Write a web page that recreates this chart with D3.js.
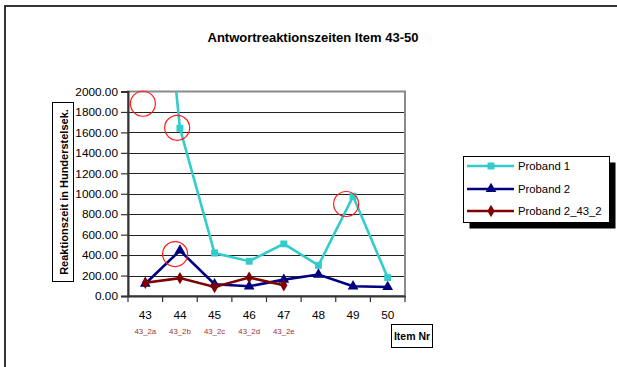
<!DOCTYPE html>
<html>
<head>
<meta charset="utf-8">
<script src="https://cdn.jsdelivr.net/npm/d3@7"></script>
<style>
  html, body { margin: 0; padding: 0; background: #fff; }
  svg { display: block; font-family: "Liberation Sans", Arial, sans-serif; }
</style>
</head>
<body>
<svg id="chart" width="617" height="367"></svg>
<script>
// Items on the x axis and the sub-item codes printed below them
const items = ["43", "44", "45", "46", "47", "48", "49", "50"];
const subItems = ["43_2a", "43_2b", "43_2c", "43_2d", "43_2e"];

// Reaction times (hundredths of a second)
const proband1 = [5000, 1640, 420, 340, 510, 300, 975, 180];
const proband2 = [120, 445, 115, 95, 160, 210, 95, 88];
const proband2_43_2 = [130, 175, 88, 180, 105];

const yTicks = [0, 200, 400, 600, 800, 1000, 1200, 1400, 1600, 1800, 2000];

// Hand-placed highlight rings: [item position, value]
const highlightItem = [42.93, 43.92, 43.86, 48.8];
const highlightValue = [1880, 1645, 410, 900];

const svg = d3.select("#chart");

// outer frame (only its top and left edges fall inside the view)
svg.append("rect").attr("x", 5).attr("y", 6).attr("width", 700).attr("height", 700)
  .attr("fill", "none").attr("stroke", "#333").attr("stroke-width", 2);

const plot = { left: 128, right: 405, top: 91.5, bottom: 296 };

const x = d3.scaleBand().domain(items).range([plot.left, plot.right]);
const xItem = d3.scaleLinear().domain([43, 50])
  .range([x("43") + x.bandwidth() / 2, x("50") + x.bandwidth() / 2]);
const y = d3.scaleLinear().domain([0, 2000]).range([plot.bottom, plot.top]);

// title
svg.append("text").attr("x", 313).attr("y", 42).attr("text-anchor", "middle")
  .attr("font-size", 13).attr("font-weight", "bold").attr("fill", "#000")
  .text("Antwortreaktionszeiten Item 43-50");

// grid lines
svg.append("g").selectAll("line").data(yTicks.filter(t => t > 0 && t < 2000)).join("line")
  .attr("x1", plot.left).attr("x2", plot.right)
  .attr("y1", d => Math.round(y(d)) + 0.5).attr("y2", d => Math.round(y(d)) + 0.5)
  .attr("stroke", "#222").attr("stroke-width", 1);

// plot area border
svg.append("rect").attr("x", plot.left).attr("y", plot.top)
  .attr("width", plot.right - plot.left).attr("height", plot.bottom - plot.top)
  .attr("fill", "none").attr("stroke", "#8a8a8a").attr("stroke-width", 2);

// y axis
const yAxis = svg.append("g").attr("transform", `translate(${plot.left},0)`)
  .call(d3.axisLeft(y).tickValues(yTicks).tickFormat(d3.format(".2f")).tickSize(7).tickPadding(3));
yAxis.select(".domain").attr("stroke", "#333").attr("stroke-width", 2);
yAxis.selectAll(".tick line").attr("stroke", "#333").attr("stroke-width", 1.2);
yAxis.selectAll(".tick text").attr("font-size", 11.8).attr("fill", "#000")
  .attr("font-family", "Liberation Sans, Arial, sans-serif");

// x axis
const xAxis = svg.append("g").attr("transform", `translate(0,${plot.bottom})`)
  .call(d3.axisBottom(x).tickSize(0).tickPadding(15));
xAxis.select(".domain").attr("stroke", "#333").attr("stroke-width", 2);
xAxis.selectAll(".tick text").attr("font-size", 11.8).attr("fill", "#000")
  .attr("font-family", "Liberation Sans, Arial, sans-serif");
// category boundary tick marks
xAxis.append("g").selectAll("line").data(d3.range(items.length + 1)).join("line")
  .attr("x1", i => plot.left + i * x.bandwidth()).attr("x2", i => plot.left + i * x.bandwidth())
  .attr("y1", 0).attr("y2", 6).attr("stroke", "#333").attr("stroke-width", 1.2);

// sub-item labels
svg.append("g").selectAll("text").data(subItems).join("text")
  .attr("x", (d, i) => x(items[i]) + x.bandwidth() / 2).attr("y", 334)
  .attr("text-anchor", "middle").attr("font-size", 7.8).attr("fill", "#a03030")
  .text(d => d);

// clip for series
svg.append("clipPath").attr("id", "plotClip").append("rect")
  .attr("x", plot.left).attr("y", plot.top)
  .attr("width", plot.right - plot.left).attr("height", plot.bottom - plot.top + 6);

const cx = i => x(items[i]) + x.bandwidth() / 2;
const line = d3.line().x((d, i) => cx(i)).y(d => y(d));

const series = [
  { name: "Proband 1", values: proband1, color: "#33CCCC", symbol: d3.symbolSquare, size: 48 },
  { name: "Proband 2", values: proband2, color: "#000080", symbol: d3.symbolTriangle, size: 50 },
  { name: "Proband 2_43_2", values: proband2_43_2, color: "#800000", symbol: d3.symbolDiamond, size: 44 }
];

const seriesG = svg.append("g").attr("clip-path", "url(#plotClip)");
series.forEach(s => {
  seriesG.append("path").datum(s.values).attr("d", line)
    .attr("fill", "none").attr("stroke", s.color).attr("stroke-width", 2.6)
    .attr("stroke-linejoin", "miter");
  seriesG.append("g").selectAll("path").data(s.values).join("path")
    .attr("transform", (d, i) => `translate(${cx(i)},${y(d)})`)
    .attr("d", d3.symbol().type(s.symbol).size(s.size))
    .attr("fill", s.color);
});

// highlight rings
svg.append("g").selectAll("circle").data(highlightItem).join("circle")
  .attr("cx", d => xItem(d)).attr("cy", (d, i) => y(highlightValue[i]))
  .attr("r", 12.5).attr("fill", "none").attr("stroke", "#ff1a1a").attr("stroke-width", 1.2);

// y axis title box
svg.append("rect").attr("x", 52.5).attr("y", 102.5).attr("width", 21).attr("height", 179)
  .attr("fill", "#fff").attr("stroke", "#000").attr("stroke-width", 1);
svg.append("text").attr("transform", "translate(67.5,192) rotate(-90)")
  .attr("text-anchor", "middle").attr("font-size", 11).attr("font-weight", "bold")
  .text("Reaktionszeit in Hunderstelsek.");

// x axis title box
svg.append("rect").attr("x", 391.5).attr("y", 324.5).attr("width", 41).attr("height", 23)
  .attr("fill", "#fff").attr("stroke", "#000").attr("stroke-width", 1);
svg.append("text").attr("x", 412).attr("y", 340).attr("text-anchor", "middle")
  .attr("font-size", 10.5).attr("font-weight", "bold").text("Item Nr");

// legend with drop shadow
const lg = { x: 463.5, y: 156.5, w: 146, h: 66 };
svg.append("rect").attr("x", lg.x + 6).attr("y", lg.y + 6).attr("width", lg.w).attr("height", lg.h)
  .attr("fill", "#000");
svg.append("rect").attr("x", lg.x).attr("y", lg.y).attr("width", lg.w).attr("height", lg.h)
  .attr("fill", "#fff").attr("stroke", "#000").attr("stroke-width", 1);
const rowY = [166, 189, 211];
series.forEach((s, i) => {
  const g = svg.append("g");
  g.append("line").attr("x1", 467).attr("x2", 514).attr("y1", rowY[i]).attr("y2", rowY[i])
    .attr("stroke", s.color).attr("stroke-width", 2.6);
  g.append("path").attr("transform", `translate(491,${rowY[i]})`)
    .attr("d", d3.symbol().type(s.symbol).size(s.size)).attr("fill", s.color);
  g.append("text").attr("x", 518).attr("y", rowY[i] + 4).attr("font-size", 11.3).text(s.name);
});
</script>
</body>
</html>
